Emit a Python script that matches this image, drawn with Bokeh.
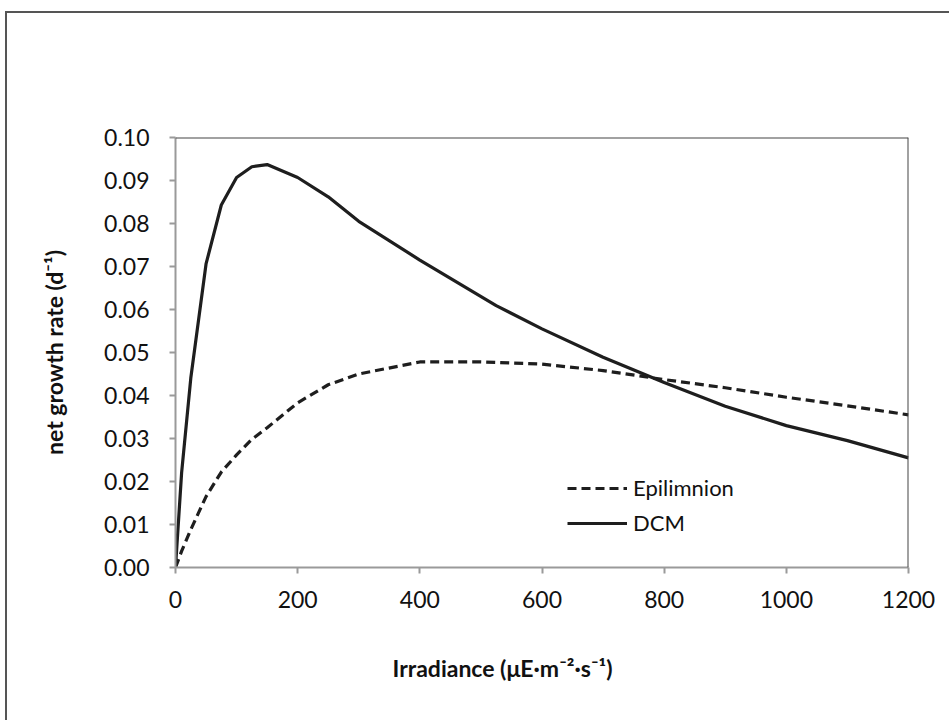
from bokeh.plotting import figure
from bokeh.models import (Range1d, FixedTicker, NumeralTickFormatter, Legend, LegendItem,
                          Span, Title)
from bokeh.embed import file_html
from bokeh.resources import INLINE

# ---- data ----
irradiance_dcm = [0, 10, 25, 50, 75, 100, 125, 150, 200, 250, 300, 400, 525, 600, 700, 800, 900, 1000, 1100, 1200]
dcm = [0.0, 0.022, 0.044, 0.0706, 0.0843, 0.0907, 0.0932, 0.0937, 0.0907, 0.0862, 0.0805,
       0.0715, 0.0609, 0.0555, 0.0489, 0.0430, 0.0375, 0.0330, 0.0295, 0.0255]
irradiance_epi = [0, 10, 25, 50, 75, 100, 125, 150, 200, 250, 300, 400, 500, 600, 700, 800, 900, 1000, 1100, 1200]
epilimnion = [0.0, 0.0038, 0.0088, 0.0165, 0.0222, 0.0262, 0.0298, 0.0325, 0.0383, 0.0425, 0.0450,
              0.0478, 0.0478, 0.0473, 0.0458, 0.0437, 0.0418, 0.0396, 0.0376, 0.0355]
x_ticks = [0, 200, 400, 600, 800, 1000, 1200]
y_ticks = [0.00, 0.01, 0.02, 0.03, 0.04, 0.05, 0.06, 0.07, 0.08, 0.09, 0.10]

FONT = "Lato"
INK = "#1e1e1e"
TXT = "#111111"

W, H = 944, 709
p = figure(width=W, height=H, output_backend="svg", toolbar_location=None,
           x_range=Range1d(0, 1200), y_range=Range1d(0, 0.10),
           min_border_left=168, min_border_right=43, min_border_top=124, min_border_bottom=155)
p.styles = {"border-left": "2px solid #555555", "border-top": "2px solid #555555",
            "margin-left": "5px", "margin-top": "11px"}
p.outline_line_color = None
p.grid.visible = False
p.background_fill_color = "white"
p.border_fill_color = "white"

for ax in (p.xaxis[0], p.yaxis[0]):
    ax.axis_line_color = "#9a9a9a"
    ax.axis_line_width = 2
    ax.major_tick_line_color = "#9a9a9a"
    ax.major_tick_line_width = 2
    ax.major_tick_out = 6
    ax.major_tick_in = 0
    ax.minor_tick_line_color = None
    ax.major_label_text_font = FONT
    ax.major_label_text_font_size = "23px"
    ax.major_label_text_color = TXT

p.xaxis.ticker = FixedTicker(ticks=x_ticks)
p.yaxis.ticker = FixedTicker(ticks=y_ticks)
p.yaxis.formatter = NumeralTickFormatter(format="0.00")
p.xaxis.major_label_standoff = 17
p.yaxis.major_label_standoff = 20

p.yaxis.axis_label = "net growth rate (d\u207b\u00b9)"
p.yaxis.axis_label_text_font = FONT
p.yaxis.axis_label_text_font_style = "bold"
p.yaxis.axis_label_text_font_size = "23px"
p.yaxis.axis_label_text_color = TXT
p.yaxis.axis_label_standoff = 33

# plot-area border on top and right
p.add_layout(Span(location=0.10, dimension="width", line_color="#444444", line_width=2))
p.add_layout(Span(location=1200, dimension="height", line_color="#444444", line_width=2))

r_dcm = p.line(irradiance_dcm, dcm, line_color=INK, line_width=3.2, line_join="round")
r_epi = p.line(irradiance_epi, epilimnion, line_color=INK, line_width=3.2, line_dash="9 5")

legend = Legend(items=[LegendItem(label="Epilimnion", renderers=[r_epi]),
                       LegendItem(label="DCM", renderers=[r_dcm])],
                location=(392, 31), orientation="vertical")
legend.background_fill_alpha = 0
legend.border_line_color = None
legend.padding = 0
legend.margin = 0
legend.spacing = 8
legend.glyph_width = 60
legend.glyph_height = 22
legend.label_height = 22
legend.label_standoff = 6
legend.label_text_font = FONT
legend.label_text_font_size = "22px"
legend.label_text_color = TXT
p.add_layout(legend)

xtitle = Title(text="Irradiance (\u03bcE\u00b7m\u207b\u00b2\u00b7s\u207b\u00b9)", align="left", offset=217,
               text_font=FONT, text_font_style="bold", text_font_size="23px",
               text_color=TXT, standoff=82)
p.add_layout(xtitle, "below")

open("out.html", "w").write(file_html(p, INLINE))
